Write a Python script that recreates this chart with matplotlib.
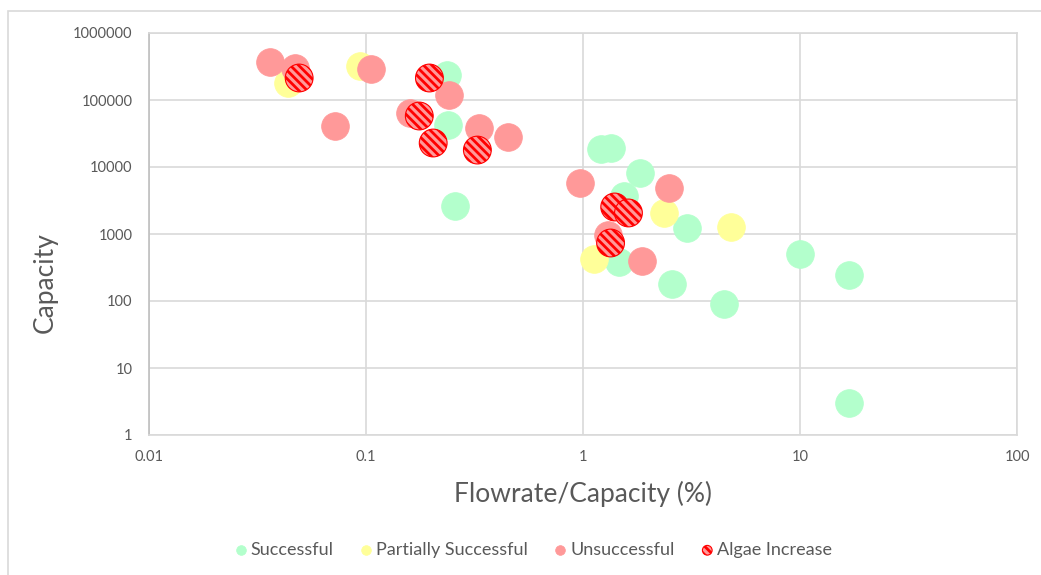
import numpy as np
import matplotlib
matplotlib.use("Agg")
import matplotlib.pyplot as plt
from matplotlib.patches import Rectangle

plt.rcParams['font.family'] = ['Lato', 'DejaVu Sans']
plt.rcParams['hatch.linewidth'] = 2.0

# series data (flowrate/capacity %, capacity)
succ_x = [0.237, 0.239, 0.258, 1.205, 1.34, 1.84, 1.54, 3.0, 1.46, 2.56, 4.45, 10.0, 16.8, 16.8]
succ_y = [236000, 42400, 2620, 18600, 19200, 8140, 3700, 1230, 382, 179, 90, 503, 244, 3.0]

part_x = [0.0437, 0.094, 2.35, 4.79, 1.12]
part_y = [179000, 322000, 2060, 1272, 424]

unsu_x = [0.0361, 0.047, 0.0721, 0.1057, 0.242, 0.160, 0.330, 0.449, 0.973, 2.48, 1.30, 1.88]
unsu_y = [369000, 300000, 41000, 290000, 119000, 64000, 38200, 28000, 5770, 4860, 966, 395]

algae_x = [0.0492, 0.196, 0.176, 0.204, 0.326, 1.40, 1.62, 1.34]
algae_y = [213000, 213000, 57700, 22800, 17900, 2530, 2060, 734]

x_ticks = [0.01, 0.1, 1, 10, 100]
x_labels = ['0.01', '0.1', '1', '10', '100']
y_ticks = [1, 10, 100, 1000, 10000, 100000, 1000000]
y_labels = ['1', '10', '100', '1000', '10000', '100000', '1000000']

fig = plt.figure(figsize=(10.41, 5.75), dpi=100)
ax = fig.add_axes([149/1041, 1 - 435/575, (1017 - 149)/1041, (435 - 33)/575])

# outer chart border
fig.patches.append(Rectangle((8/1041, -0.1), 1.2, 1 - 11/575 + 0.1, transform=fig.transFigure,
                             fill=False, edgecolor='#D9D9D9', linewidth=1.2))

size = 400
ax.scatter(succ_x, succ_y, s=size, color='#B3FFCC', edgecolor='#B3FFCC', linewidth=0.5,
           label='Successful', zorder=3)
ax.scatter(part_x, part_y, s=size, color='#FFFF99', edgecolor='#FFFF99', linewidth=0.5,
           label='Partially Successful', zorder=4)
ax.scatter(unsu_x, unsu_y, s=size, color='#FF9999', edgecolor='#FF9999', linewidth=0.5,
           label='Unsuccessful', zorder=5)
ax.scatter(algae_x, algae_y, s=size, facecolor='#FF9999', edgecolor='#FF0000', linewidth=0.8,
           hatch='\\\\\\\\', label='Algae Increase', zorder=6)

ax.set_xscale('log')
ax.set_yscale('log')
ax.set_xlim(0.01, 100)
ax.set_ylim(1, 1000000)
ax.set_xticks(x_ticks)
ax.set_xticklabels(x_labels)
ax.set_yticks(y_ticks)
ax.set_yticklabels(y_labels)
ax.minorticks_off()
ax.tick_params(length=0, labelsize=10.5, labelcolor='#595959')
ax.tick_params(axis='x', pad=11)
ax.tick_params(axis='y', pad=12)
ax.grid(True, color='#D9D9D9', linewidth=1.2, zorder=0)
ax.set_axisbelow(True)
for sp in ax.spines.values():
    sp.set_color('#D9D9D9')
    sp.set_linewidth(1.2)
ax.spines['left'].set_color('#BFBFBF')

ax.set_xlabel('Flowrate/Capacity (%)', fontsize=19, color='#595959', labelpad=12)
ax.set_ylabel('Capacity', fontsize=19, color='#595959')
ax.yaxis.set_label_coords(-0.105, 0.38)

leg = fig.legend(loc='center', bbox_to_anchor=(0.511, 1 - 550/575), ncol=4, frameon=False,
                 fontsize=13, labelcolor='#595959', markerscale=0.35, handletextpad=0.05,
                 columnspacing=1.3, handlelength=1.0)

fig.savefig('out.png', dpi=100)
